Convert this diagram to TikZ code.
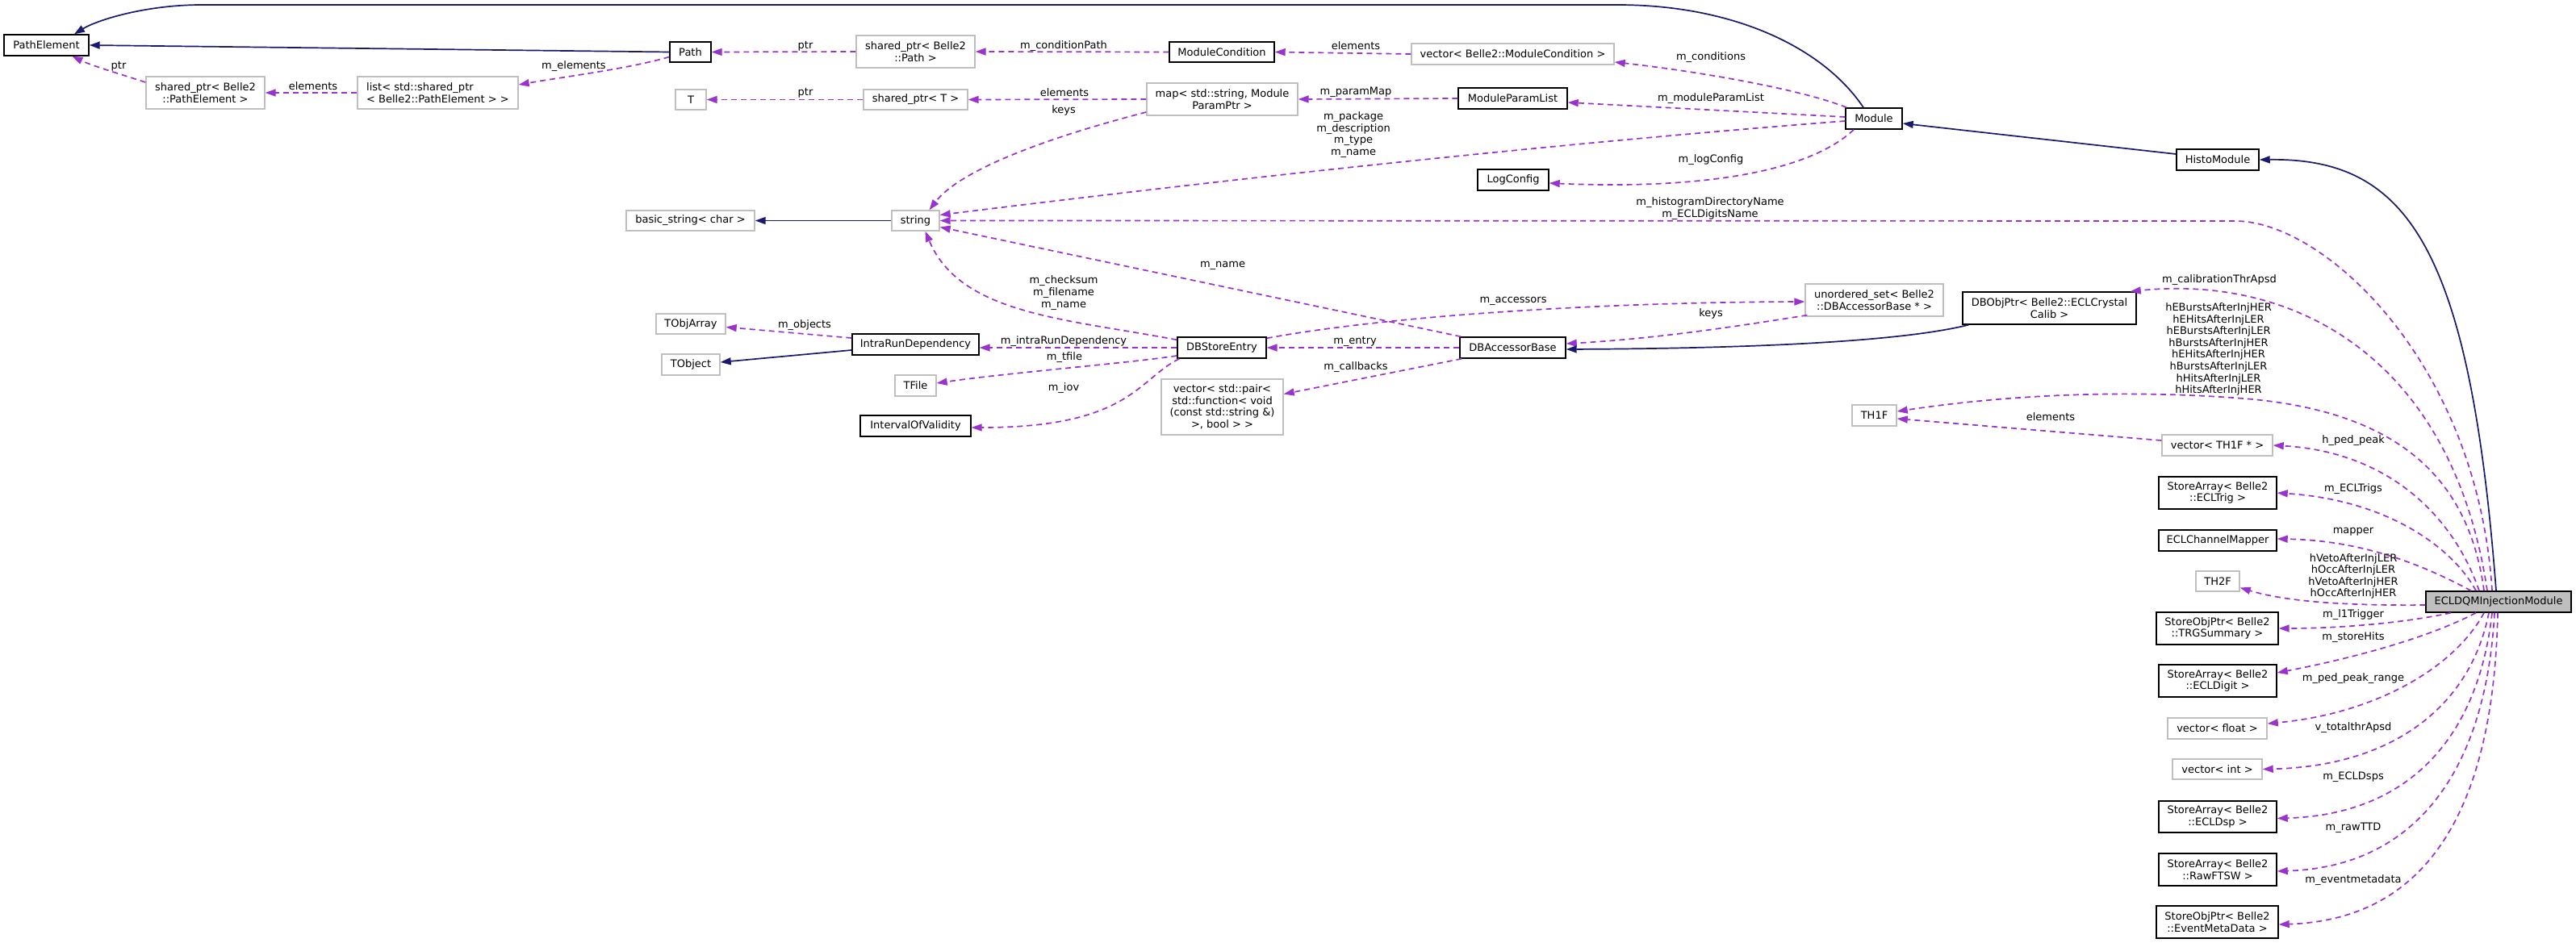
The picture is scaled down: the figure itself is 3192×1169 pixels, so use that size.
\documentclass[tikz,border=0pt]{standalone}
\usepackage{fontspec}
\setmainfont{DejaVu Sans}
\usetikzlibrary{arrows.meta}
\definecolor{dep}{HTML}{9A32CD}
\definecolor{inh}{HTML}{191970}
\definecolor{gryb}{HTML}{BFBFBF}
\newcommand{\nf}{\fontsize{13}{14.6}\selectfont}
\tikzset{
  base/.style={inner sep=0pt, align=center, font=\nf, fill=white},
  blk/.style={base, draw=black, line width=1.4pt},
  gry/.style={base, draw=gryb, line width=1.4pt},
  dep/.style={draw=dep, line width=1.7pt, dash pattern=on 7pt off 5pt, -{Triangle[length=13pt,width=9pt]}},
  inh/.style={draw=inh, line width=1.7pt, -{Triangle[length=13pt,width=9pt]}},
  lab/.style={font=\nf, inner sep=0pt, align=center},
}
\begin{document}
\begin{tikzpicture}[x=1pt,y=-1pt]
\fill[white] (0,0) rectangle (3192,1169);
\useasboundingbox (0,0) rectangle (3192,1169);

% ---------- nodes ----------
\node[blk, minimum width=105pt, minimum height=26pt] (PE) at (57.5,56) {PathElement};
\node[gry, minimum width=147pt, minimum height=40pt] (sPE) at (254.5,115) {shared\_ptr< Belle2\\::PathElement >};
\node[gry, minimum width=199pt, minimum height=40pt, align=left] (lPE) at (542.5,115) {list< std::shared\_ptr\\< Belle2::PathElement > >};
\node[blk, minimum width=51pt, minimum height=25pt] (Path) at (855.5,64.5) {Path};
\node[gry, minimum width=147pt, minimum height=40pt] (sPath) at (1134.5,64) {shared\_ptr< Belle2\\::Path >};
\node[blk, minimum width=130pt, minimum height=25pt] (MC) at (1514,64.5) {ModuleCondition};
\node[gry, minimum width=251pt, minimum height=26pt] (vMC) at (1874.5,67) {vector< Belle2::ModuleCondition >};
\node[gry, minimum width=38pt, minimum height=25pt] (T) at (856,123.5) {T};
\node[gry, minimum width=129pt, minimum height=25pt] (sT) at (1134.5,123.5) {shared\_ptr< T >};
\node[gry, minimum width=187pt, minimum height=40pt] (map) at (1514.5,123) {map< std::string, Module\\ParamPtr >};
\node[blk, minimum width=135pt, minimum height=26pt] (MPL) at (1874.5,122) {ModuleParamList};
\node[blk, minimum width=70pt, minimum height=26pt] (Module) at (2322,147) {Module};
\node[blk, minimum width=88pt, minimum height=26pt] (LC) at (1875,223) {LogConfig};
\node[blk, minimum width=102pt, minimum height=26pt] (HM) at (2748,198) {HistoModule};
\node[gry, minimum width=159pt, minimum height=25pt] (bs) at (855.5,273.5) {basic\_string< char >};
\node[gry, minimum width=59pt, minimum height=25pt] (string) at (1134.5,273.5) {string};
\node[gry, minimum width=86pt, minimum height=25pt] (TOA) at (856,401.5) {TObjArray};
\node[gry, minimum width=72pt, minimum height=26pt] (TOb) at (856,452) {TObject};
\node[blk, minimum width=157pt, minimum height=26pt] (IRD) at (1134.5,427) {IntraRunDependency};
\node[gry, minimum width=51pt, minimum height=26pt] (TF) at (1134.5,478) {TFile};
\node[blk, minimum width=137pt, minimum height=26pt] (IOV) at (1134.5,528) {IntervalOfValidity};
\node[blk, minimum width=110pt, minimum height=26pt] (DBSE) at (1514,431) {DBStoreEntry};
\node[gry, minimum width=151pt, minimum height=69pt] (vP) at (1514.5,504.5) {vector< std::pair<\\ std::function< void\\(const std::string \&)\\>, bool > >};
\node[blk, minimum width=131pt, minimum height=26pt] (DBAB) at (1874.5,431) {DBAccessorBase};
\node[gry, minimum width=171pt, minimum height=40pt] (us) at (2322.5,372) {unordered\_set< Belle2\\::DBAccessorBase * >};
\node[blk, minimum width=215pt, minimum height=40pt] (DBOP) at (2539.5,382) {DBObjPtr< Belle2::ECLCrystal\\Calib >};
\node[gry, minimum width=55pt, minimum height=26pt] (TH1F) at (2322.5,515) {TH1F};
\node[gry, minimum width=137pt, minimum height=26pt] (vT) at (2747.5,552) {vector< TH1F * >};
\node[blk, minimum width=146pt, minimum height=40pt] (SAT) at (2748,611) {StoreArray< Belle2\\::ECLTrig >};
\node[blk, minimum width=146pt, minimum height=26pt] (CM) at (2748,670) {ECLChannelMapper};
\node[gry, minimum width=54pt, minimum height=25pt] (TH2F) at (2748,720.5) {TH2F};
\node[blk, fill=gryb, minimum width=180pt, minimum height=26pt] (ECLDQM) at (3096,746) {ECLDQMInjectionModule};
\node[blk, minimum width=151pt, minimum height=40pt] (TRG) at (2747.5,779) {StoreObjPtr< Belle2\\::TRGSummary >};
\node[blk, minimum width=146pt, minimum height=40pt] (SAD) at (2748,844) {StoreArray< Belle2\\::ECLDigit >};
\node[gry, minimum width=123pt, minimum height=26pt] (vF) at (2747.5,903) {vector< float >};
\node[gry, minimum width=111pt, minimum height=25pt] (vI) at (2747.5,953.5) {vector< int >};
\node[blk, minimum width=146pt, minimum height=39pt] (SADsp) at (2748,1012.5) {StoreArray< Belle2\\::ECLDsp >};
\node[blk, minimum width=146pt, minimum height=40pt] (SAR) at (2748,1078) {StoreArray< Belle2\\::RawFTSW >};
\node[blk, minimum width=151pt, minimum height=40pt] (SOE) at (2747.5,1143) {StoreObjPtr< Belle2\\::EventMetaData >};

% ---------- edges ----------
\draw[inh] ([xshift=-13pt]Module.north) .. controls (2260,60) and (2150,6) .. (2004,6) -- (250,6) .. controls (180,6) and (120,25) .. ([xshift=34.5pt]PE.north);
\draw[inh] (Path.west) -- (PE.east);
\draw[dep] ([yshift=-6pt]Path.west) .. controls (780,85) and (700,95) .. ([yshift=10pt]lPE.east);
\draw[dep] (lPE.west) -- (sPE.east);
\draw[dep] ([yshift=13pt]sPE.west) .. controls (150,92) and (115,82) .. ([xshift=32pt]PE.south);
\draw[dep] (sPath.west) -- (Path.east);
\draw[dep] (MC.west) -- (sPath.east);
\draw[dep] (vMC.west) -- (MC.east);
\draw[dep] ([xshift=2pt]Module.north west) .. controls (2230,110) and (2100,88) .. ([yshift=-10pt]vMC.east);
\draw[dep] (sT.west) -- (T.east);
\draw[dep] (map.west) -- (sT.east);
\draw[dep] (MPL.west) -- (map.east);
\draw[dep] ([yshift=2pt]Module.west) -- ([yshift=-5pt]MPL.east);
\draw[dep] ([yshift=-3pt]Module.west) .. controls (1900,180) and (1500,225) .. ([yshift=7pt]string.east);
\draw[dep] ([xshift=-25pt]Module.south) .. controls (2240,215) and (2100,235) .. ([yshift=-4pt]LC.east);
\draw[dep] ([yshift=-16pt]map.west) .. controls (1300,170) and (1190,210) .. ([xshift=17pt]string.north);
\draw[dep] ([xshift=-8pt]ECLDQM.north) .. controls (3070,450) and (2880,274) .. (2770,274) -- (string.east);
\draw[dep] ([xshift=2pt]DBAB.north west) -- ([yshift=-8pt]string.east);
\draw[dep] ([yshift=-4pt]DBSE.north west) .. controls (1320,395) and (1190,390) .. ([xshift=12pt]string.south);
\draw[dep] ([yshift=-2pt]DBSE.north east) .. controls (1700,395) and (1950,375) .. ([yshift=-2pt]us.west);
\draw[dep] ([xshift=3pt,yshift=2pt]us.south west) .. controls (2150,405) and (2050,420) .. ([yshift=5pt]DBAB.east);
\draw[inh] ([xshift=8pt]DBOP.south west) .. controls (2350,425) and (2150,432) .. ([yshift=-2pt]DBAB.east);
\draw[dep] (DBAB.west) -- (DBSE.east);
\draw[dep] (DBSE.west) -- ([yshift=-4pt]IRD.east);
\draw[dep] ([yshift=8pt]IRD.west) -- ([yshift=-4pt]TOA.east);
\draw[inh] ([yshift=-7pt]IRD.west) -- ([yshift=3pt]TOb.east);
\draw[dep] ([yshift=-10pt]DBSE.west) .. controls (1400,450) and (1250,462) .. ([yshift=3pt]TF.east);
\draw[dep] ([xshift=3pt]DBSE.south west) .. controls (1410,470) and (1400,530) .. ([yshift=-2pt]IOV.east);
\draw[dep] ([xshift=3pt]DBAB.south west) -- ([yshift=16pt]vP.east);
\draw[dep] ([yshift=6pt]vT.west) -- ([yshift=-4pt]TH1F.east);
\draw[inh] ([yshift=7pt]HM.west) -- ([yshift=-6pt]Module.east);
\draw[inh] (string.west) -- (bs.east);
\draw[inh] ([xshift=-3pt]ECLDQM.north) .. controls (3060,300) and (2980,196) .. (HM.east);
\draw[dep] ([xshift=-14pt]ECLDQM.north) .. controls (3040,450) and (2850,340) .. ([xshift=-8pt]DBOP.north east);
\draw[dep] ([xshift=-18pt]ECLDQM.north) .. controls (3060,600) and (2980,510) .. (2780,494) .. controls (2600,480) and (2450,495) .. ([yshift=5pt]TH1F.east);
\draw[dep] ([xshift=-24pt]ECLDQM.north) .. controls (3040,640) and (2960,560) .. (vT.east);
\draw[dep] ([xshift=-28pt]ECLDQM.north) .. controls (3040,680) and (2960,620) .. (SAT.east);
\draw[dep] ([xshift=-34pt]ECLDQM.north) .. controls (3020,710) and (2940,670) .. ([yshift=2pt]CM.east);
\draw[dep] ([yshift=-4pt]ECLDQM.west) .. controls (2900,751) and (2830,745) .. ([yshift=-8pt]TH2F.east);
\draw[dep] ([xshift=-59pt]ECLDQM.south) .. controls (2980,772) and (2900,779) .. (TRG.east);
\draw[dep] ([xshift=-28pt]ECLDQM.south) .. controls (3010,790) and (2920,815) .. ([yshift=10pt]SAD.east);
\draw[dep] ([xshift=-18pt]ECLDQM.south) .. controls (3040,830) and (2940,885) .. ([yshift=6pt]vF.east);
\draw[dep] ([xshift=-12pt]ECLDQM.south) .. controls (3060,880) and (2960,950) .. (vI.east);
\draw[dep] ([xshift=-8pt]ECLDQM.south) .. controls (3070,920) and (2980,1010) .. ([yshift=-2pt]SADsp.east);
\draw[dep] ([xshift=-5pt]ECLDQM.south) .. controls (3080,960) and (2990,1075) .. ([yshift=-2pt]SAR.east);
\draw[dep] ([xshift=-1pt]ECLDQM.south) .. controls (3090,1000) and (3010,1140) .. ([yshift=-3pt]SOE.east);

% ---------- labels ----------
\node[lab] (la) at (147,82) {ptr};
\node[lab] (lb) at (388,107) {elements};
\node[lab] (lc) at (711,82) {m\_elements};
\node[lab] (ld) at (998,57) {ptr};
\node[lab] (le) at (1318,57) {m\_conditionPath};
\node[lab] (lf) at (1680,57) {elements};
\node[lab] (lg) at (2120,71) {m\_conditions};
\node[lab] (lh) at (998,115) {ptr};
\node[lab] (li) at (1319,115) {elements};
\node[lab] (lj) at (1318,137) {keys};
\node[lab] (lk) at (1680,114) {m\_paramMap};
\node[lab] (ll) at (2120,122) {m\_moduleParamList};
\node[lab] (lm) at (1677,167) {m\_package\\m\_description\\m\_type\\m\_name};
\node[lab] (ln) at (2120,198) {m\_logConfig};
\node[lab] (lo) at (2119,258.5) {m\_histogramDirectoryName\\m\_ECLDigitsName};
\node[lab] (lp) at (1515,329) {m\_name};
\node[lab] (lq) at (1318,363) {m\_checksum\\m\_filename\\m\_name};
\node[lab] (lr) at (1875,373) {m\_accessors};
\node[lab] (ls) at (2120,389) {keys};
\node[lab] (lt) at (997,403) {m\_objects};
\node[lab] (lu) at (1318,423) {m\_intraRunDependency};
\node[lab] (lv) at (1679,423) {m\_entry};
\node[lab] (lw) at (1319,443) {m\_tfile};
\node[lab] (lx) at (1680,455) {m\_callbacks};
\node[lab] (ly) at (1318,481) {m\_iov};
\node[lab] (lz) at (2750,347) {m\_calibrationThrApsd};
\node[lab] (m1) at (2749,433) {hEBurstsAfterInjHER\\hEHitsAfterInjLER\\hEBurstsAfterInjLER\\hBurstsAfterInjHER\\hEHitsAfterInjHER\\hBurstsAfterInjLER\\hHitsAfterInjLER\\hHitsAfterInjHER};
\node[lab] (m2) at (2541,517) {elements};
\node[lab] (m3) at (2916,546) {h\_ped\_peak};
\node[lab] (m4) at (2916,606) {m\_ECLTrigs};
\node[lab] (m5) at (2916,659) {mapper};
\node[lab] (m6) at (2916,714.5) {hVetoAfterInjLER\\hOccAfterInjLER\\hVetoAfterInjHER\\hOccAfterInjHER};
\node[lab] (m7) at (2916,762) {m\_l1Trigger};
\node[lab] (m8) at (2916,790) {m\_storeHits};
\node[lab] (m9) at (2916,841) {m\_ped\_peak\_range};
\node[lab] (n1) at (2916,902) {v\_totalthrApsd};
\node[lab] (n2) at (2916,963) {m\_ECLDsps};
\node[lab] (n3) at (2916,1026) {m\_rawTTD};
\node[lab] (n4) at (2916,1091) {m\_eventmetadata};
\end{tikzpicture}
\end{document}
